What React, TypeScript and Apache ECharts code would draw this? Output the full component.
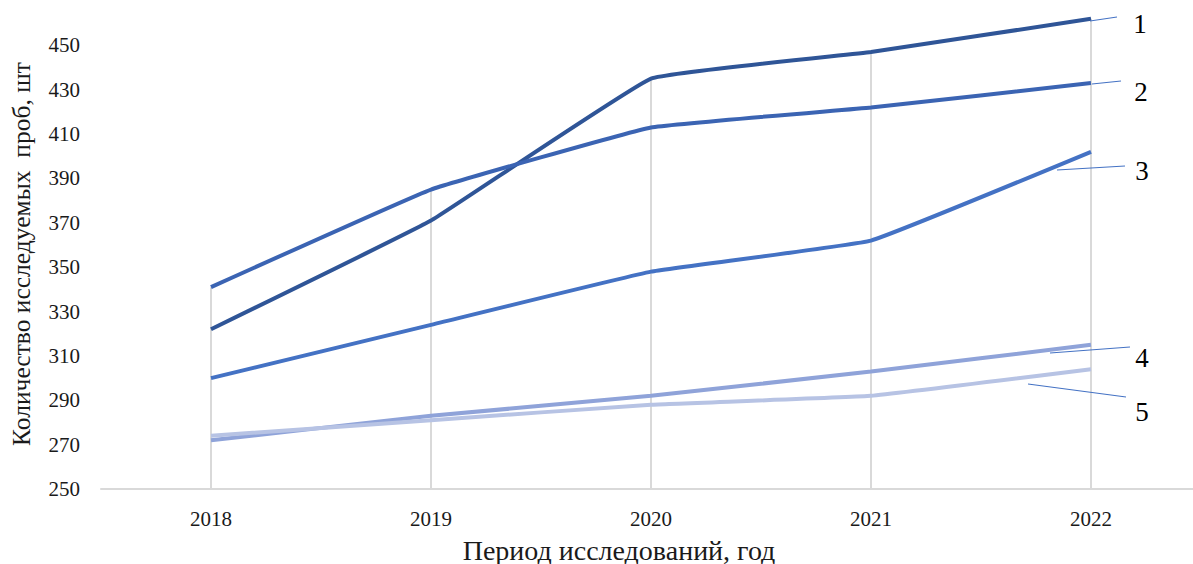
import React, { useEffect, useRef } from "react";
import * as echarts from "echarts";

// Study years on the category axis
const years = ["2018", "2019", "2020", "2021", "2022"];

// Number of studied samples per series, by year
const series1 = [322, 371, 435, 447, 462];
const series2 = [341, 385, 413, 422, 433];
const series3 = [300, 324, 348, 362, 402];
const series4 = [272, 283, 292, 303, 315];
const series5 = [274, 281, 288, 292, 304];

const seriesNames = ["1", "2", "3", "4", "5"];
const seriesColors = ["#2F5597", "#3B64B3", "#4472C4", "#8FA3D9", "#B7C3E4"];

const yTitle = "Количество исследуемых  проб, шт";
const xTitle = "Период исследований, год";

const FONT = "'Liberation Serif', 'Times New Roman', serif";

// Callout leaders: [x1, y1, x2, y2, labelX, labelY]
const callouts: [number, number, number, number, number, number][] = [
  [1090, 21, 1117, 17, 1140, 24],
  [1092, 84, 1121, 81, 1141, 92],
  [1057, 170, 1125, 166, 1142, 171],
  [1050, 353, 1130, 347, 1142, 358],
  [1028, 384, 1126, 397, 1142, 412],
];

export default function App() {
  const ref = useRef<HTMLDivElement>(null);

  useEffect(() => {
    if (!ref.current) return;
    const chart = echarts.init(ref.current, undefined, { renderer: "svg" });
    const all = [series1, series2, series3, series4, series5];
    // Drop lines run from the highest point of each year down to the axis
    const peaks = years.map((_, i) => Math.max(...all.map((s) => s[i])));

    chart.setOption({
      animation: false,
      backgroundColor: "#ffffff",
      grid: { left: 101, top: 1, width: 1100, height: 488, containLabel: false },
      xAxis: {
        type: "category",
        data: years,
        boundaryGap: true,
        axisLine: { show: true, lineStyle: { color: "#D9D9D9", width: 2 } },
        axisTick: { show: false },
        splitLine: { show: false },
        axisLabel: { color: "#1a1a1a", fontFamily: FONT, fontSize: 21, margin: 19 },
      },
      yAxis: {
        type: "value",
        min: 250,
        max: 470,
        interval: 20,
        axisLine: { show: false },
        axisTick: { show: false },
        splitLine: { show: false },
        axisLabel: {
          color: "#1a1a1a",
          fontFamily: FONT,
          fontSize: 21,
          margin: 21,
          showMaxLabel: false,
        },
      },
      series: [
        {
          type: "custom",
          name: "drop",
          silent: true,
          z: 1,
          data: peaks.map((v, i) => [i, v]),
          renderItem: (params: any, api: any) => {
            const top = api.coord([api.value(0), api.value(1)]);
            const bottom = api.coord([api.value(0), 250]);
            return {
              type: "line",
              shape: { x1: top[0], y1: top[1], x2: bottom[0], y2: bottom[1] },
              style: { stroke: "#D9D9D9", lineWidth: 2 },
            };
          },
        },
        ...all.map((data, k) => ({
          type: "line",
          name: seriesNames[k],
          data,
          z: 3,
          smooth: 0.08,
          showSymbol: false,
          symbol: "none",
          lineStyle: { color: seriesColors[k], width: 4 },
          itemStyle: { color: seriesColors[k] },
        })),
      ],
      graphic: [
        // Axis titles
        {
          type: "text",
          x: 619,
          y: 550,
          style: {
            text: xTitle,
            fill: "#1a1a1a",
            font: `28px ${FONT}`,
            textAlign: "center",
            textVerticalAlign: "middle",
          },
        },
        {
          type: "text",
          x: 21,
          y: 254,
          rotation: Math.PI / 2,
          style: {
            text: yTitle,
            fill: "#1a1a1a",
            font: `25.5px ${FONT}`,
            textAlign: "center",
            textVerticalAlign: "middle",
          },
        },
        // Series callouts
        ...callouts.flatMap(([x1, y1, x2, y2, lx, ly], k) => [
          {
            type: "line",
            shape: { x1, y1, x2, y2 },
            style: { stroke: "#4472C4", lineWidth: 1.2 },
            z: 10,
          },
          {
            type: "text",
            x: lx,
            y: ly,
            style: {
              text: seriesNames[k],
              fill: "#000000",
              font: `27px ${FONT}`,
              textAlign: "center",
              textVerticalAlign: "middle",
            },
            z: 10,
          },
        ]),
      ],
    });

    return () => chart.dispose();
  }, []);

  return (
    <div
      style={{
        position: "fixed",
        left: 0,
        top: 0,
        width: 1193,
        height: 564,
        overflow: "hidden",
        background: "#fff",
      }}
    >
      <div ref={ref} style={{ width: 1220, height: 564 }} />
    </div>
  );
}
